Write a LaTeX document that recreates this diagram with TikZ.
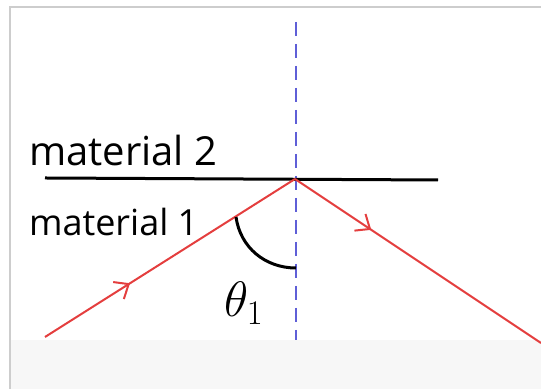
\documentclass[tikz,border=0pt]{standalone}
\usepackage{fontspec}
\setmainfont{Open Sans}
\usepackage{tikz}
\usetikzlibrary{arrows.meta,decorations.markings}
\definecolor{rayred}{RGB}{228, 62, 62}
\definecolor{normalblue}{RGB}{95, 95, 215}
\definecolor{framegray}{RGB}{205, 205, 205}
\definecolor{bandgray}{RGB}{247, 247, 247}

\tikzset{
  ray/.style={rayred, line width=1pt},
  raymid/.style={ray, postaction={decorate}, decoration={markings,
      mark=at position #1 with {\arrow[line width=1pt]{Straight Barb[length=6pt,width=10pt]}}}},
}

\begin{document}
\begin{tikzpicture}[x=0.5pt, y=0.5pt, font=\fontsize{20}{22}\selectfont]
        \useasboundingbox (0,0) rectangle (541,389);
        % screenshot frame and lower band
        \fill[bandgray] (10,0) rectangle (541,49);
        \draw[framegray, line width=1pt] (10,0) -- (10,382) -- (541,382);

        \coordinate (O)    at (295,210);
        \coordinate (ifL)  at (45,211);
        \coordinate (ifR)  at (438,209);
        \coordinate (nTop) at (296,367);
        \coordinate (nBot) at (296,49);
        \coordinate (inS)  at (45,52);
        \coordinate (outE) at (541,46);
        \coordinate (arcS) at (236,172);
        \coordinate (arcE) at (296,121);

        \draw[normalblue, line width=1pt, dash pattern=on 7pt off 4pt] (nTop) -- (nBot);
        \draw[black, line width=1.5pt] (ifL) -- (ifR);
        \draw[raymid=0.34] (inS) -- (O);
        \draw[raymid=0.31] (O) -- (outE);
        \draw[black, line width=1.5pt] (arcS) to[out=-82, in=180] (arcE);

        \node[anchor=west] (m2) at (22,238) {material 2};
        \node[anchor=west, font=\fontsize{18}{20}\selectfont] (m1) at (22,167) {material 1};
        \node[font=\fontsize{24}{26}\selectfont] (th) at (244,86) {$\theta_1$};
      \end{tikzpicture}
\end{document}
